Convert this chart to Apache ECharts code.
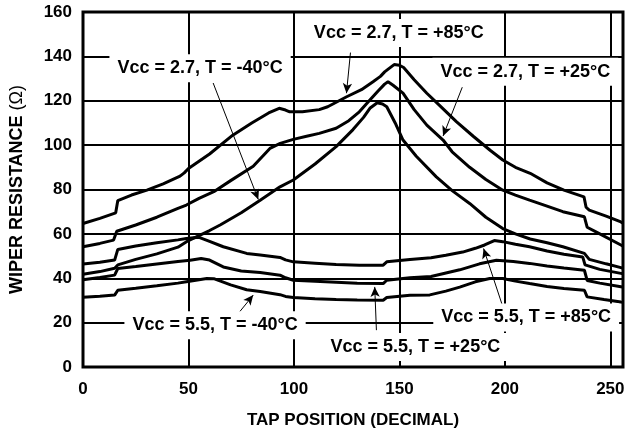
<!DOCTYPE html>
<html>
<head>
<meta charset="utf-8">
<script src="https://cdn.jsdelivr.net/npm/echarts@6/dist/echarts.min.js"></script>
<style>
html,body{margin:0;padding:0;background:#fff;}
#chart{width:628px;height:436px;}
</style>
</head>
<body>
<div id="chart"></div>
<script>
// ---- data ----
const xTicks = [0, 50, 100, 150, 200, 250];
const yTicks = [0, 20, 40, 60, 80, 100, 120, 140, 160];
const xMax = 256;

// Vcc = 2.7 V
const vcc27_t85 = [[0,64.7],[8,67],[15.5,69.5],[16.5,75],[23,77.5],[30.3,79.7],[38,82.5],[46,86],[48,87.5],[50,89.5],[60,96],[71,104.5],[80,110],[88,114.5],[93,116.6],[96,115.8],[98,115],[104,115],[112,116],[116,117.3],[125,121.8],[132,125],[137.5,128.6],[141,131],[143,133],[145,134.5],[147.5,136.3],[150,136],[152,135],[157,129.5],[163,123.4],[170,117],[177,110.6],[185,104],[193,97.7],[199,93.3],[205,90],[212,87.3],[220,83],[228,79.7],[237.5,76.7],[238.5,72],[240,70.7],[248,68],[255,65.4],[256,64.8]];
const vcc27_t25 = [[0,54.2],[8,55.7],[14.5,57.2],[16,61.2],[25,64],[35,67.5],[45,71.5],[49,73],[55,76],[62,79],[70,84],[80.7,90.5],[88.6,98.5],[93.5,100.8],[99.7,102.6],[106,104],[112,105.3],[120,107.6],[126,111],[131,115],[136,120.3],[140,124.5],[143,127.5],[144.6,128.6],[147,127],[151.7,123.4],[157,116],[163,109],[170.7,102.3],[175,97],[183.3,90],[191,84.5],[199,79.7],[205,77.5],[211.7,75.2],[220,72.5],[227.5,70],[237.7,67.7],[239,63],[245,60],[255,55],[256,54.5]];
const vcc27_tm40 = [[0,41.8],[8,43],[15,44.5],[16.5,46],[25,48.5],[35,51],[45,54],[50,57],[55,59.2],[60,61.5],[65,64],[75,69.5],[84,75.2],[93.4,81.2],[99.7,84.3],[110,91.5],[120,99.3],[128,107],[133,112.5],[136,116.6],[139.5,119.1],[142,118.5],[144,117.3],[148,110],[151.7,102.3],[158,95],[167.5,85.7],[175,79.5],[183.3,73.7],[191,67.5],[199,62.4],[205,60],[212,57.7],[220,56],[227.5,54.2],[237.7,51.2],[240,48.5],[248,46.5],[255,44.8],[256,44.5]];

// Vcc = 5.5 V
const vcc55_t85 = [[0,46.4],[8,47.2],[15,48.2],[16.5,53],[25,54.5],[35,56],[45,57.3],[49,57.9],[54.7,58.5],[60,56.6],[66.5,54.2],[77.6,51.2],[84,50.5],[93.4,49.4],[96,48.3],[99.7,47.4],[110,46.8],[120,46.2],[131,45.9],[142.3,45.9],[144,47.4],[155,48.5],[165,49.2],[172,50.4],[180,51.8],[186,53.5],[190.4,55],[195,57],[199,56.5],[205,55.3],[211.7,54.2],[220,52.3],[228,50.8],[236.9,49.6],[238,46],[245,44],[255,42.2],[256,42]];
const vcc55_t25 = [[0,39.3],[8,40.3],[15,41.4],[16.5,44.4],[25,45.3],[35,46.4],[45,47.5],[50.8,48.1],[56,48.9],[60,48.2],[66.5,45.1],[75,43.3],[84,42.6],[93.4,41.4],[96,40.2],[99.7,39.1],[110,38.6],[120,38.2],[130,37.8],[142.3,37.6],[144,39.1],[155,40.2],[165,40.8],[178.6,43.8],[188,46.5],[196,48.1],[204,47.5],[211.7,46.7],[220,45.5],[228,44.6],[237.7,43.6],[239,39],[245,37.8],[255,36.2],[256,36]];
const vcc55_tm40 = [[0,31.4],[8,31.9],[15,32.4],[16.5,34.6],[25,35.5],[35,36.6],[45,37.8],[49,38.4],[55,39.3],[58.7,39.9],[62,39.8],[70,37],[77.6,34.8],[84,34],[93.4,32.6],[96,31.8],[99.7,31.3],[110,30.8],[120,30.4],[130,30.2],[142.3,30.1],[144,31.3],[155,32.3],[164.4,32.5],[172,34.2],[178.6,36],[186,38.4],[192.8,39.9],[199,39.9],[205,38.7],[211.7,37.6],[220,36.3],[228,35.4],[237.7,34.6],[239,31.6],[247,30.4],[255,29.3],[256,29.2]];

// annotations
const labelTexts = ['Vcc = 2.7, T = -40°C','Vcc = 2.7, T = +85°C','Vcc = 2.7, T = +25°C','Vcc = 5.5, T = -40°C','Vcc = 5.5, T = +85°C','Vcc = 5.5, T = +25°C'];
const labelCenters = [[55.5,134.6],[149.7,150.5],[209.7,133.1],[62.6,18.8],[210.1,22.3],[157.6,9.0]];
const arrowFrom = [[61.7,128.0],[126.8,141.7],[179.8,126.1],[72.9,23.3],[198.8,27.8],[139.1,16.6]];
const arrowTo = [[83.1,75.5],[124.9,123.4],[170.7,104.1],[80.7,32.4],[189.9,53.4],[138.3,36.1]];

// ---- chart ----
const FONT = '"Liberation Sans", Arial, Helvetica, sans-serif';
const chart = echarts.init(document.getElementById('chart'), null, {renderer: 'canvas'});

function curve(name, data) {
  return {
    name: name, type: 'line', data: data, showSymbol: false, symbol: 'none',
    smooth: false, lineStyle: {color: '#000', width: 3}, z: 4, silent: true
  };
}

const option = {
  animation: false,
  backgroundColor: '#fff',
  grid: {left: 83, right: 5, top: 12, bottom: 69, show: true, borderColor: '#000', borderWidth: 3, backgroundColor: 'transparent'},
  xAxis: {
    type: 'value', min: xTicks[0], max: xMax, interval: xTicks[1] - xTicks[0],
    name: 'TAP POSITION (DECIMAL)', nameLocation: 'middle', nameGap: 45,
    nameTextStyle: {fontFamily: FONT, fontWeight: 'bold', fontSize: 17, color: '#000'},
    axisLine: {show: false}, axisTick: {show: false},
    axisLabel: {showMaxLabel: false, margin: 14, fontFamily: FONT, fontWeight: 'bold', fontSize: 17, color: '#000'},
    splitLine: {show: true, lineStyle: {color: '#000', width: 2}}
  },
  yAxis: {
    type: 'value', min: yTicks[0], max: yTicks[yTicks.length - 1], interval: yTicks[1] - yTicks[0],
    name: '{b|WIPER RESISTANCE }{n|(Ω)}', nameLocation: 'middle', nameGap: 57,
    nameTextStyle: {
      color: '#000', fontFamily: FONT, fontSize: 18,
      rich: {b: {fontFamily: FONT, fontWeight: 'bold', fontSize: 18, color: '#000'}, n: {fontFamily: FONT, fontWeight: 'normal', fontSize: 18, color: '#000'}}
    },
    axisLine: {show: false}, axisTick: {show: false},
    axisLabel: {margin: 11, fontFamily: FONT, fontWeight: 'bold', fontSize: 17, color: '#000'},
    splitLine: {show: true, lineStyle: {color: '#000', width: 2}}
  },
  series: [
    curve('Vcc 2.7 +85', vcc27_t85),
    curve('Vcc 2.7 +25', vcc27_t25),
    curve('Vcc 2.7 -40', vcc27_tm40),
    curve('Vcc 5.5 +85', vcc55_t85),
    curve('Vcc 5.5 +25', vcc55_t25),
    curve('Vcc 5.5 -40', vcc55_tm40),
    {
      name: 'annotations', type: 'line', data: [], z: 2, silent: true,
      markLine: {
        silent: true, animation: false,
        symbol: ['none', 'arrow'], symbolSize: [7, 10],
        label: {show: false},
        lineStyle: {color: '#000', width: 1, type: 'solid'},
        data: arrowFrom.map((f, i) => [{coord: f}, {coord: arrowTo[i]}])
      },
      markPoint: {
        silent: true, animation: false, symbol: 'rect', symbolSize: 0,
        label: {
          show: true, position: 'inside', formatter: p => p.name,
          fontFamily: FONT, fontWeight: 'bold', fontSize: 18, color: '#000',
          backgroundColor: '#fff', padding: [5, 8]
        },
        data: labelTexts.map((t, i) => ({name: t, coord: labelCenters[i]}))
      }
    }
  ]
};
chart.setOption(option);
</script>
</body>
</html>
